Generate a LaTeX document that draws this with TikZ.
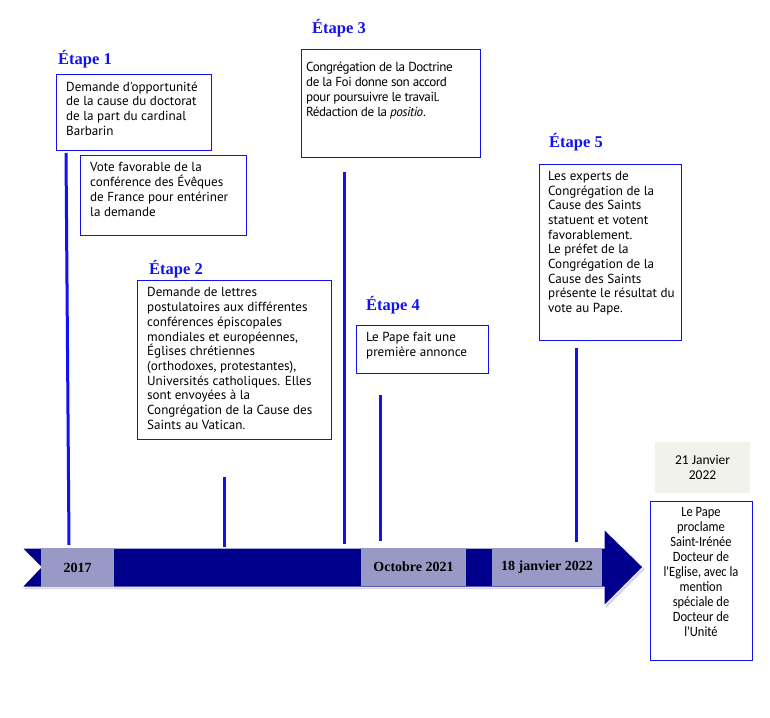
\documentclass[tikz,border=0pt]{standalone}
\usepackage{fontspec}
\newfontfamily\bodyfont{PT Sans}
\newfontfamily\tightfont[LetterSpace=-3.5]{PT Sans}
\newfontfamily\narrowfont[FakeStretch=0.88]{Carlito}
\newfontfamily\datefont{Carlito}
\newfontfamily\titlefont{Liberation Serif}
\usetikzlibrary{calc}
\definecolor{stepblue}{RGB}{18,18,240}
\definecolor{navy}{RGB}{0,0,140}
\definecolor{yearfill}{RGB}{153,153,197}
\definecolor{paper}{RGB}{242,242,236}
\tikzset{
  stepframe/.style={draw=stepblue, line width=1pt, inner sep=0pt, outer sep=0pt, anchor=north west},
  steptext/.style={inner sep=0pt, anchor=north west, align=left, font=\bodyfont\fontsize{13.1}{14.7}\selectfont},
  yearbox/.style={fill=yearfill, inner sep=0pt, font=\titlefont\bfseries\fontsize{14}{15}\selectfont},
  stemline/.style={draw=stepblue, line width=3pt}
}
\newcommand{\etapelabl}[4]{\node[anchor=base west, inner sep=0pt, text=stepblue, font=\titlefont\bfseries\fontsize{16.5}{18}\selectfont] (#1) at ( #2 , #3 ) {#4};}
\newcommand{\stem}[5]{\coordinate (#1top) at ( #2 , #3 ); \coordinate (#1bot) at ( #4 , #5 ); \draw[stemline] (#1top) -- (#1bot);}

\begin{document}
\begin{tikzpicture}[x=1pt, y=-1pt]
        \useasboundingbox (0,0) rectangle (770,717);
        % arrow
        \fill[black!30, opacity=0.5] (24,550) -- (606,550) -- (606,531) -- (645,569) -- (606,608) -- (606,589) -- (24,589) -- (43,569) -- cycle;
        \draw[fill=navy, draw=white, line width=1pt] (22,548) -- (604,548) -- (604,529) -- (643,567) -- (604,606) -- (604,587) -- (22,587) -- (41,567) -- cycle;
        % years on the arrow
        \node[yearbox, minimum width=73pt, minimum height=39pt] (y2017) at (77.5,567.5) {2017};
        \node[yearbox, minimum width=105pt, minimum height=38pt] (y2021) at (413.5,567) {Octobre 2021};
        \node[yearbox, minimum width=110pt, minimum height=38pt] (y2022) at (547,567) {18 janvier 2022};
        % stems
        \stem{s1}{66}{153}{69}{545}
        \stem{s2}{224}{477}{224}{547}
        \stem{s3}{344}{172}{344}{544}
        \stem{s4}{380}{395}{380}{541}
        \stem{s5}{576}{348}{576}{542}
        % step 1
        \etapelabl{e1}{58}{64.3}{Étape 1}
        \node[stepframe, minimum width=155pt, minimum height=76pt] (b1) at (56,74) {};
        \node[steptext] (t1) at ($(b1.north west)+(10,7.5)$) {Demande d'opportunité\\de la cause du doctorat\\de la part du cardinal\\Barbarin};
        \node[stepframe, minimum width=166pt, minimum height=80pt] (b1b) at (80,155) {};
        \node[steptext] (t1b) at ($(b1b.north west)+(10,7.5)$) {Vote favorable de la\\conférence des Évêques\\de France pour entériner\\la demande};
        % step 2
        \etapelabl{e2}{149}{274}{Étape 2}
        \node[stepframe, minimum width=194pt, minimum height=159pt] (b2) at (137,280) {};
        \node[steptext] (t2) at ($(b2.north west)+(10,7.5)$) {Demande de lettres\\postulatoires aux différentes\\conférences épiscopales\\mondiales et européennes,\\Églises chrétiennes\\(orthodoxes, protestantes),\\Universités catholiques. Elles\\sont envoyées à la\\Congrégation de la Cause des\\Saints au Vatican.};
        % step 3
        \etapelabl{e3}{312}{34}{Étape 3}
        \node[stepframe, minimum width=179pt, minimum height=107pt] (b3) at (301,50) {};
        \node[steptext, font=\tightfont\fontsize{13.1}{15}\selectfont] (t3) at ($(b3.north west)+(5,11.5)$) {Congrégation de la Doctrine\\de la Foi donne son accord\\pour poursuivre le travail.\\Rédaction de la \textit{positio}.};
        % step 4
        \etapelabl{e4}{366}{310}{Étape 4}
        \node[stepframe, minimum width=132pt, minimum height=48pt] (b4) at (356,325) {};
        \node[steptext] (t4) at ($(b4.north west)+(10,7.5)$) {Le Pape fait une\\première annonce};
        % step 5
        \etapelabl{e5}{549}{147}{Étape 5}
        \node[stepframe, minimum width=142pt, minimum height=176pt] (b5) at (539,164) {};
        \node[steptext] (t5) at ($(b5.north west)+(9,7)$) {Les experts de\\Congrégation de la\\Cause des Saints\\statuent et votent\\favorablement.\\Le préfet de la\\Congrégation de la\\Cause des Saints\\présente le résultat du\\vote au Pape.};
        % last date
        \node[fill=paper, inner sep=0pt, minimum width=95pt, minimum height=51pt, align=center, font=\datefont\fontsize{13.5}{15.4}\selectfont] (d) at (702.5,467.5) {21 Janvier\\2022};
        \node[stepframe, minimum width=102pt, minimum height=159pt] (bf) at (650,501) {};
        \node[inner sep=0pt, anchor=north, align=center, font=\narrowfont\fontsize{14.2}{14.9}\selectfont] (tf) at ($(bf.north)+(0,6.5)$) {Le Pape\\proclame\\Saint-Irénée\\Docteur de\\l'Eglise, avec la\\mention\\spéciale de\\Docteur de\\l'Unité};
    \end{tikzpicture}
\end{document}
